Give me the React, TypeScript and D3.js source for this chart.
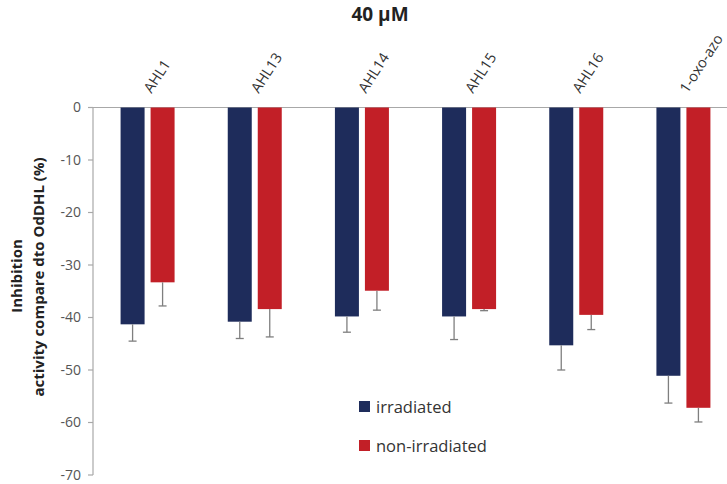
import React from "react";
import * as d3 from "d3";

const categories = ["AHL1", "AHL13", "AHL14", "AHL15", "AHL16", "1-oxo-azo"];
const irradiated = [-41.3, -40.8, -39.8, -39.8, -45.3, -51.1];
const irradiatedErr = [3.2, 3.2, 3.0, 4.4, 4.7, 5.2];
const nonIrradiated = [-33.3, -38.4, -34.9, -38.4, -39.5, -57.2];
const nonIrradiatedErr = [4.5, 5.3, 3.7, 0.3, 2.8, 2.7];
const yTicks = [0, -10, -20, -30, -40, -50, -60, -70];
const seriesNames = ["irradiated", "non-irradiated"];
const colors = ["#1e2c5b", "#c21f27"];

const W = 727;
const H = 484;
const left = 93;
const right = 736;
const top = 107.5;
const bottom = 475;

export default function App() {
  const x = d3.scaleBand<string>().domain(categories).range([left, right]).paddingInner(0).paddingOuter(0);
  const y = d3.scaleLinear().domain([0, -70]).range([top, bottom]);
  const barW = 24;
  const gap = 6;
  const font = "'Open Sans', 'DejaVu Sans', sans-serif";

  const series = [
    { vals: irradiated, errs: irradiatedErr, off: -(gap / 2) - barW },
    { vals: nonIrradiated, errs: nonIrradiatedErr, off: gap / 2 },
  ];

  return (
    <div style={{ position: "absolute", left: 0, top: 0 }}>
      <svg width={W} height={H} style={{ display: "block", background: "#fff" }}>
        <text x={380} y={21} textAnchor="middle" fontFamily={font} fontWeight="bold" fontSize={19} fill="#222">
          40 μM
        </text>
        {/* zero line */}
        <line x1={left} x2={W} y1={y(0)} y2={y(0)} stroke="#a8a8a8" strokeWidth={1.2} />
        {/* y axis */}
        <line x1={left} x2={left} y1={y(0)} y2={y(-70)} stroke="#a8a8a8" strokeWidth={1.2} />
        {yTicks.map((t) => (
          <g key={t}>
            <line x1={left - 5} x2={left} y1={y(t)} y2={y(t)} stroke="#a8a8a8" strokeWidth={1.2} />
            <text x={left - 12} y={y(t)} dy="0.35em" textAnchor="end" fontFamily={font} fontSize={14} fill="#555">
              {t}
            </text>
          </g>
        ))}
        {/* bars */}
        {series.map((s, si) =>
          categories.map((c, i) => {
            const cx = (x(c) as number) + x.bandwidth() / 2 + 1;
            const bx = cx + s.off;
            const v = s.vals[i];
            const ex = bx + barW / 2;
            return (
              <g key={si + "-" + c}>
                <rect x={bx} y={y(0)} width={barW} height={y(v) - y(0)} fill={colors[si]} />
                <line x1={ex} x2={ex} y1={y(v)} y2={y(v - s.errs[i])} stroke="#7f7f7f" strokeWidth={1.3} />
                <line x1={ex - 4} x2={ex + 4} y1={y(v - s.errs[i])} y2={y(v - s.errs[i])} stroke="#7f7f7f" strokeWidth={1.3} />
              </g>
            );
          })
        )}
        {/* category labels */}
        {categories.map((c) => {
          const cx = (x(c) as number) + x.bandwidth() / 2;
          return (
            <text
              key={c}
              transform={`translate(${cx + 5},${94}) rotate(-57)`}
              fontFamily={font}
              fontSize={14.5}
              fill="#333"
            >
              {c}
            </text>
          );
        })}
        {/* y axis title */}
        <text transform={`translate(22,276) rotate(-90)`} textAnchor="middle" fontFamily={font} fontWeight="bold" fontSize={15} fill="#222">
          Inhibition
        </text>
        <text transform={`translate(44,277) rotate(-90)`} textAnchor="middle" fontFamily={font} fontWeight="bold" fontSize={15} fill="#222">
          activity compare dto OdDHL (%)
        </text>
        {/* legend */}
        {seriesNames.map((n, i) => (
          <g key={n} transform={`translate(359,${401 + i * 39})`}>
            <rect x={0} y={0} width={11} height={11} fill={colors[i]} />
            <text x={17} y={6} dy="0.35em" fontFamily={font} fontSize={16.5} fill="#333">
              {n}
            </text>
          </g>
        ))}
      </svg>
    </div>
  );
}
